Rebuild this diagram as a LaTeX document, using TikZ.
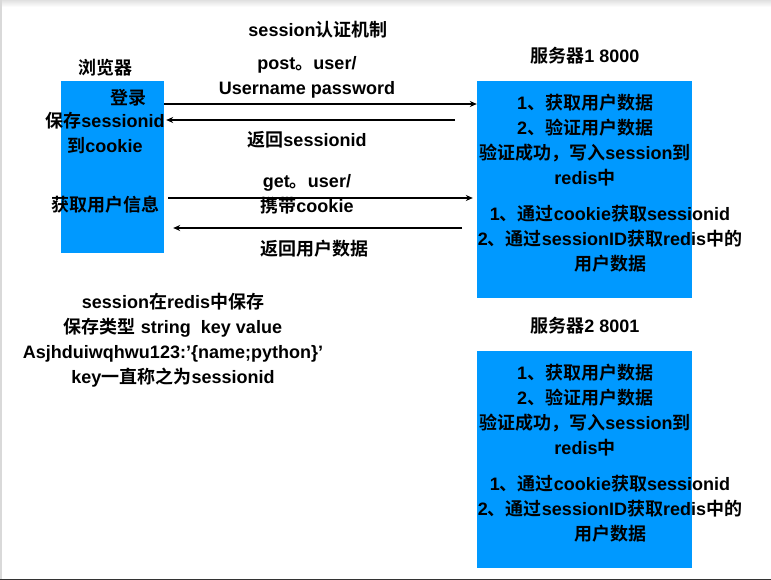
\documentclass[tikz,border=0pt]{standalone}
\usepackage{fontspec}
\setmainfont{Liberation Sans}
\newfontfamily\cjk{Noto Sans CJK SC}[BoldFont={Noto Sans CJK SC Bold}]
\newcommand\zh[1]{{\cjk\bfseries #1}}
\usetikzlibrary{arrows.meta}
\definecolor{boxblue}{RGB}{0,153,255}
\begin{document}
\begin{tikzpicture}[x=1pt,y=-1pt,
  txt/.style={inner sep=0pt,font=\fontsize{18}{25}\selectfont\bfseries,align=center,anchor=center},
  bluebox/.style={fill=boxblue,draw=none,inner sep=0pt},
  arr/.style={draw=black,line width=1.1pt,-{Stealth[length=7pt,width=6pt]}}]
\useasboundingbox (0,0) rectangle (771,580);
% frame
\shade[top color=black!12,bottom color=white] (0,0) rectangle (771,7);
\fill[black!15] (0,0) rectangle (1.5,580);
\fill[black!80] (0,578.5) rectangle (771,580);
% boxes
\path[bluebox] (61,81) rectangle (164,253);
\node[inner sep=0pt,minimum width=103pt,minimum height=172pt] (browser) at (112.5,167) {};
\path[bluebox] (477,81) rectangle (692,298);
\node[inner sep=0pt,minimum width=215pt,minimum height=217pt] (s1) at (584.5,189.5) {};
\path[bluebox] (477,351) rectangle (692,568);
\node[inner sep=0pt,minimum width=215pt,minimum height=217pt] (s2) at (584.5,459.5) {};
% titles
\node[txt] (title) at (318,30) {session\zh{认证机制}};
\node[txt] (bt) at (105,68) {\zh{浏览器}};
\node[txt] (s1t) at (585,56) {\zh{服务器}1 8000};
\node[txt] (s2t) at (585,326) {\zh{服务器}2 8001};
% browser text
\node[txt] (login) at (128,98) {\zh{登录}};
\node[txt] (save) at (105,121) {\zh{保存}sessionid};
\node[txt] (tocookie) at (105,146) {\zh{到}cookie};
\node[txt] (getinfo) at (105,205) {\zh{获取用户信息}};
% arrow labels
\node[txt] (l1) at (307,77) {post\zh{。}user/\\Username password};
\node[txt] (l2) at (307,140) {\zh{返回}sessionid};
\node[txt] (l3) at (307,194) {get\zh{。}user/\\\zh{携带}cookie};
\node[txt] (l4) at (314,249) {\zh{返回用户数据}};
% server texts
\foreach \s/\dy in {s1/0,s2/270}{
  \node[txt] (\s a) at (585,140.5+\dy) {1\zh{、获取用户数据}\\2\zh{、验证用户数据}\\\zh{验证成功，写入}session\zh{到}\\redis\zh{中}};
  \node[txt] (\s b) at (610,238.5+\dy) {1\zh{、通过}cookie\zh{获取}sessionid\\2\zh{、通过}sessionID\zh{获取}redis\zh{中的}\\\zh{用户数据}};
}
% bottom left
\node[txt] (redis) at (173,340) {session\zh{在}redis\zh{中保存}\\\zh{保存类型} string\ \ key value\\Asjhduiwqhwu123:’\{name;python\}’\\key\zh{一直称之为}sessionid};
% arrows
\coordinate (r2) at (455,120);
\coordinate (r4) at (462,228);
\draw[arr] (browser.east |- 0,104) -- (s1.west |- 0,104);
\draw[arr] (r2) -- ([xshift=2pt]browser.east |- r2);
\draw[arr] ([xshift=4pt]browser.east |- 0,198) -- ([xshift=-4pt]s1.west |- 0,198);
\draw[arr] (r4) -- ([xshift=9pt]browser.east |- r4);
\end{tikzpicture}
\end{document}
